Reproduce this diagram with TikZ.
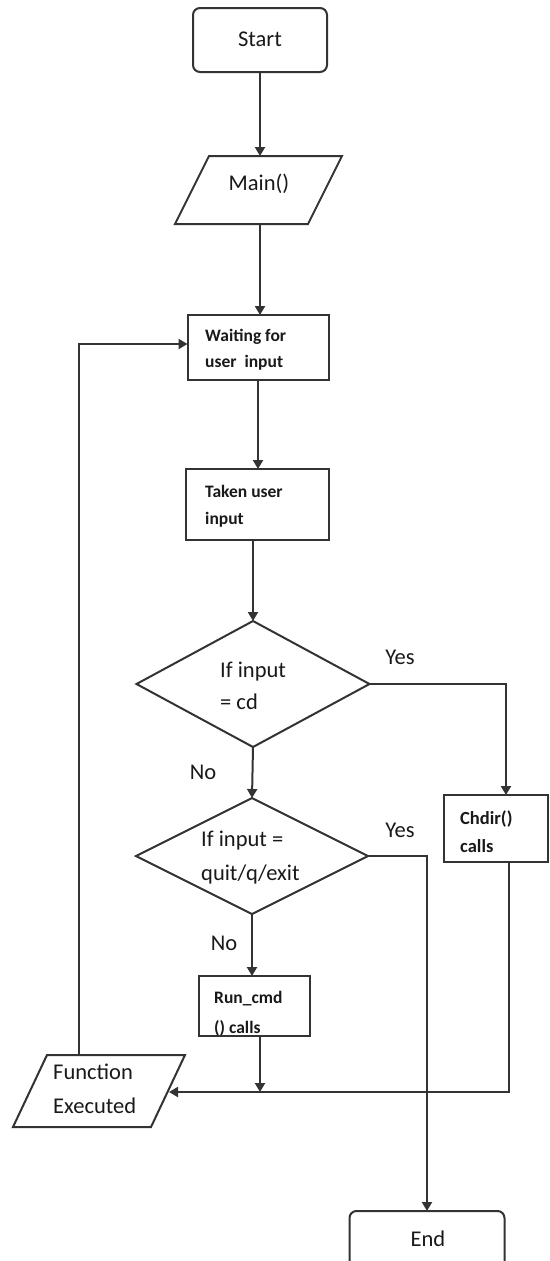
\documentclass[tikz,border=0pt]{standalone}
\usepackage{fontspec}
\setmainfont{Carlito}
\usetikzlibrary{shapes.geometric,arrows.meta,calc}
\begin{document}
\begin{tikzpicture}[x=1pt,y=-1pt,
  line/.style={draw=black!80, line width=2pt},
  shp/.style={line, fill=white, inner sep=0pt, outer sep=0pt},
  rbox/.style={shp, rectangle, rounded corners=7pt},
  pbox/.style={shp, rectangle},
  dia/.style={shp, diamond},
  ghost/.style={rectangle, inner sep=0pt, outer sep=0pt},
  conn/.style={line, -{Triangle[width=10pt,length=9pt]}},
  nf/.style={font=\fontsize{22.5}{30}\selectfont, text=black!90, inner sep=0pt},
  bf/.style={font=\fontsize{17.5}{27}\selectfont\bfseries, text=black!90, inner sep=0pt, align=left, anchor=west},
]
\useasboundingbox (0,0) rectangle (549,1261);
\clip (0,0) rectangle (549,1261);

% shapes
\node[rbox, minimum width=134, minimum height=64] (start) at (260,40) {};
\node[ghost, minimum width=167, minimum height=68] (main) at (258.5,190) {};
\draw[shp] ($(main.north west)+(34,0)$) -- (main.north east) -- ($(main.south east)+(-34,0)$) -- (main.south west) -- cycle;
\node[pbox, minimum width=141, minimum height=65] (wait) at (258,347.5) {};
\node[pbox, minimum width=143, minimum height=71] (taken) at (257,504.5) {};
\node[dia, minimum width=233, minimum height=126] (d1) at (253,684) {};
\node[pbox, minimum width=104, minimum height=67] (chdir) at (496,828.5) {};
\node[dia, minimum width=232, minimum height=116] (d2) at (252,856) {};
\node[pbox, minimum width=111, minimum height=60] (run) at (254.5,1006) {};
\node[ghost, minimum width=172, minimum height=72] (func) at (99,1091) {};
\draw[shp] ($(func.north west)+(34,0)$) -- (func.north east) -- ($(func.south east)+(-34,0)$) -- (func.south west) -- cycle;
\node[rbox, minimum width=155, minimum height=64] (end) at (427,1243) {};

% helper coordinates
\coordinate (funcR) at (169,1092);
\coordinate (funcT) at (79,1055);

% texts
\node[nf] (startT) at (260,39) {Start};
\node[nf] (mainT) at (259,184) {Main()};
\node[bf, font=\fontsize{17.5}{26}\selectfont\bfseries] (waitT) at (205,350) {Waiting for\\user\ \ input};
\node[bf] (takenT) at (205,506) {Taken user\\input};
\node[nf, align=left, anchor=west, font=\fontsize{22.5}{32}\selectfont] (d1T) at (220,686) {If input\\= cd};
\node[nf, align=left, anchor=west, font=\fontsize{22.5}{34}\selectfont] (d2T) at (201,858) {If input =\\quit/q/exit};
\node[bf, font=\fontsize{18.5}{28}\selectfont\bfseries] (chdirT) at (460,832) {Chdir()\\calls};
\node[bf, font=\fontsize{17.5}{30}\selectfont\bfseries] (runT) at (214,1014) {Run\_cmd\\() calls};
\node[nf, align=left, anchor=west, font=\fontsize{22.5}{34}\selectfont] (funcT2) at (53,1089) {Function\\Executed};
\node[nf] (endT) at (428,1239) {End};
\node[nf] (yes1) at (400,657) {Yes};
\node[nf] (yes2) at (400,830) {Yes};
\node[nf] (no1) at (203,772) {No};
\node[nf] (no2) at (224,943) {No};

% connectors
\draw[conn] (start.south) -- (start.south |- main.north);
\draw[conn] (start.south |- main.south) -- (start.south |- wait.north);
\draw[conn] (wait.south) -- (wait.south |- taken.north);
\draw[conn] (d1.north |- taken.south) -- (d1.north);
\draw[conn] (d1.east) -| ([xshift=10pt]chdir.north);
\draw[conn] (d1.south) -- (d2.north);
\draw[conn] (d2.east) -| (end.north);
\draw[conn] (d2.south) -- (d2.south |- run.north);
\draw[conn] ([xshift=13pt]chdir.south) |- (funcR);
\draw[conn] ([xshift=5.5pt]run.south) -- ([xshift=5.5pt]run.south |- funcR);
\draw[conn] (funcT) |- ([yshift=3.5pt]wait.west);
\end{tikzpicture}
\end{document}
